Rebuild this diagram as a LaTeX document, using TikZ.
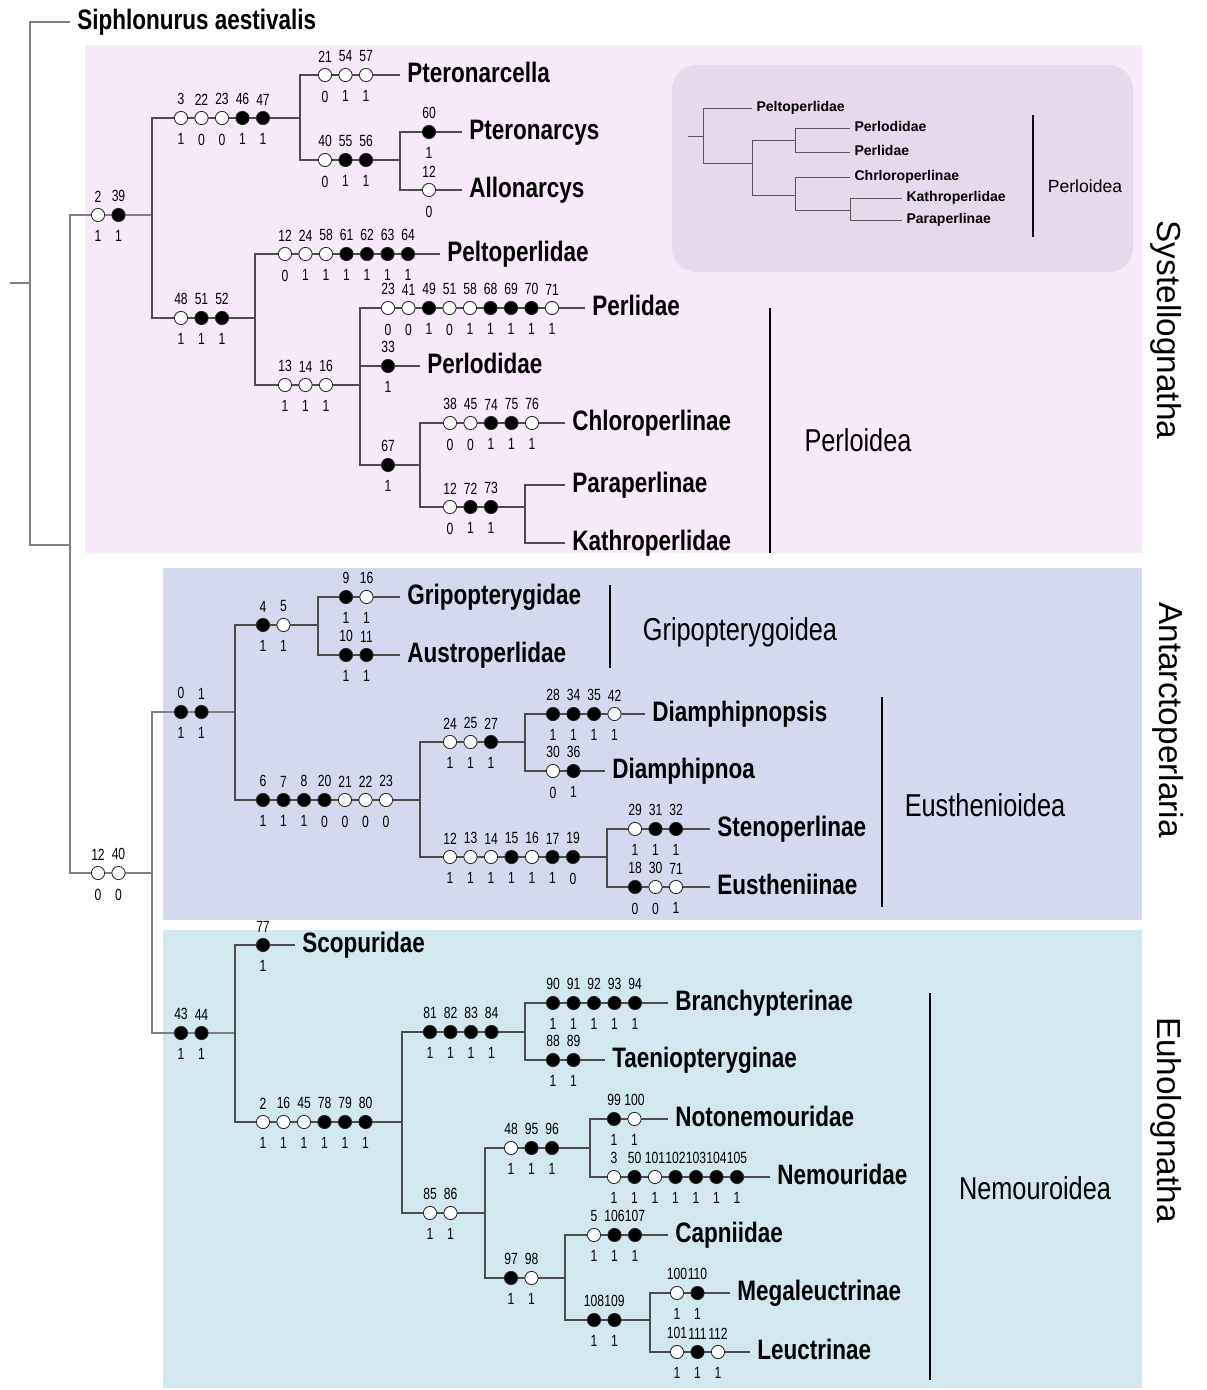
\documentclass[tikz,border=0pt]{standalone}
\usepackage{fontspec}
\setmainfont{Liberation Sans}
\newfontfamily\condfont[FakeStretch=0.8]{Liberation Sans}
\newfontfamily\numfont[FakeStretch=0.75]{Liberation Sans}
\usetikzlibrary{positioning}

\definecolor{systpink}{RGB}{247,234,248}
\definecolor{antblue}{RGB}{212,217,237}
\definecolor{euhteal}{RGB}{210,231,238}
\definecolor{insetlilac}{RGB}{230,217,235}
\colorlet{hp}{white}
\colorlet{ap}{black}

\tikzset{
  branch/.style={draw=black!70, line width=0.9pt},
  rootline/.style={draw=black!50, line width=0.9pt},
  inbranch/.style={draw=black!65, line width=0.7pt},
  groupbar/.style={draw=black, line width=1.3pt},
  charnode/.style={circle, draw=black!85, line width=0.6pt, minimum size=0.33cm, inner sep=0pt},
  num/.style={inner sep=0pt, font=\numfont\fontsize{11.5}{11.5}\selectfont},
  taxon/.style={anchor=west, inner xsep=5pt, inner ysep=0pt, text height=13pt, text depth=3pt,
    font=\condfont\bfseries\fontsize{20}{20}\selectfont},
  grouplabel/.style={inner sep=0pt, font=\condfont\fontsize{22.5}{23}\selectfont},
  sidelabel/.style={inner sep=0pt, rotate=-90, font=\fontsize{23.7}{24}\selectfont},
  intaxon/.style={anchor=west, inner xsep=3pt, inner ysep=0pt, text height=7.5pt, text depth=2pt,
    font=\bfseries\fontsize{10}{10}\selectfont},
}

% a row of character states on a branch: name, x of first circle, y, {fill/char/state,...}
\newcommand\charrow[4]{%
  \foreach \st/\up/\dn [count=\i from 0] in {#4}{%
    \node[charnode, fill=\st] (#1-\i) at ({#2+20.5*\i},#3) {};
    \node[num, above=4pt of #1-\i] (#1-\i-up) {\up};
    \node[num, below=6pt of #1-\i] (#1-\i-dn) {\dn};
  }}

\begin{document}
\begin{tikzpicture}[x=0.025cm, y=-0.025cm]
\useasboundingbox (0,0) rectangle (1206,1390);

% panels
\fill[systpink] (85,45) rectangle (1142,553);
\fill[antblue] (163,568) rectangle (1142,920);
\fill[euhteal] (163,930) rectangle (1142,1388);
\fill[insetlilac, rounded corners=0.6cm] (672,65) rectangle (1133,272);

% root
\coordinate (rootstub) at (10,283);
\coordinate (root) at (30,283);
\coordinate (ingroup) at (70,545);
\coordinate (systell) at (152,215);
\coordinate (nonsys) at (152,873);
\node[taxon] (siphlonurus) at (70,22) {Siphlonurus aestivalis};
\draw[rootline] (rootstub) -- (root);
\draw[rootline] (siphlonurus.west) -| (root);
\draw[rootline] (ingroup) -| (root);
\draw[rootline] (systell) -| (ingroup);
\draw[rootline] (nonsys) -| (ingroup);

% Systellognatha
\coordinate (pteronarcyid) at (300,118);
\coordinate (perlarian) at (255,318);
\coordinate (pteronarcysnode) at (400,160);
\coordinate (perloid) at (360,385);
\coordinate (chloroperlid) at (420,465);
\coordinate (kathronode) at (525,507);
\node[taxon] (pteronarcella) at (400,75) {Pteronarcella};
\node[taxon] (pteronarcys) at (462,132) {Pteronarcys};
\node[taxon] (allonarcys) at (462,190) {Allonarcys};
\node[taxon] (peltoperlidae) at (440,254) {Peltoperlidae};
\node[taxon] (perlidae) at (585,308) {Perlidae};
\node[taxon] (perlodidae) at (420,366) {Perlodidae};
\node[taxon] (chloroperlinae) at (565,423) {Chloroperlinae};
\node[taxon] (paraperlinae) at (565,485) {Paraperlinae};
\node[taxon] (kathroperlidae) at (565,543) {Kathroperlidae};
\draw[branch] (pteronarcyid) -| (systell);
\draw[branch] (perlarian) -| (systell);
\draw[branch] (pteronarcella.west) -| (pteronarcyid);
\draw[branch] (pteronarcysnode) -| (pteronarcyid);
\draw[branch] (pteronarcys.west) -| (pteronarcysnode);
\draw[branch] (allonarcys.west) -| (pteronarcysnode);
\draw[branch] (peltoperlidae.west) -| (perlarian);
\draw[branch] (perloid) -| (perlarian);
\draw[branch] (perlidae.west) -| (perloid);
\draw[branch] (perlodidae.west) -| (perloid);
\draw[branch] (chloroperlid) -| (perloid);
\draw[branch] (chloroperlinae.west) -| (chloroperlid);
\draw[branch] (kathronode) -| (chloroperlid);
\draw[branch] (paraperlinae.west) -| (kathronode);
\draw[branch] (kathroperlidae.west) -| (kathronode);

% Antarctoperlaria
\coordinate (antarcto) at (235,712);
\coordinate (gripo) at (318,625);
\coordinate (eusthen) at (420,800);
\coordinate (diamph) at (525,742);
\coordinate (eusthenid) at (607,857);
\node[taxon] (gripopterygidae) at (400,597) {Gripopterygidae};
\node[taxon] (austroperlidae) at (400,655) {Austroperlidae};
\node[taxon] (diamphipnopsis) at (645,714) {Diamphipnopsis};
\node[taxon] (diamphipnoa) at (605,771) {Diamphipnoa};
\node[taxon] (stenoperlinae) at (710,829) {Stenoperlinae};
\node[taxon] (eustheniinae) at (710,887) {Eustheniinae};
\draw[rootline] (antarcto) -| (nonsys);
\draw[branch] (gripo) -| (antarcto);
\draw[branch] (gripopterygidae.west) -| (gripo);
\draw[branch] (austroperlidae.west) -| (gripo);
\draw[branch] (eusthen) -| (antarcto);
\draw[branch] (diamph) -| (eusthen);
\draw[branch] (diamphipnopsis.west) -| (diamph);
\draw[branch] (diamphipnoa.west) -| (diamph);
\draw[branch] (eusthenid) -| (eusthen);
\draw[branch] (stenoperlinae.west) -| (eusthenid);
\draw[branch] (eustheniinae.west) -| (eusthenid);

% Euholognatha
\coordinate (euholo) at (235,1033);
\coordinate (nemouro) at (402,1122);
\coordinate (taenio) at (525,1032);
\coordinate (capnio) at (485,1213);
\coordinate (nemourid) at (590,1148);
\coordinate (leuctrid) at (565,1278);
\coordinate (leuctrnode) at (650,1320);
\node[taxon] (scopuridae) at (295,945) {Scopuridae};
\node[taxon] (branchypterinae) at (668,1003) {Branchypterinae};
\node[taxon] (taeniopteryginae) at (605,1060) {Taeniopteryginae};
\node[taxon] (notonemouridae) at (668,1119) {Notonemouridae};
\node[taxon] (nemouridae) at (770,1177) {Nemouridae};
\node[taxon] (capniidae) at (668,1235) {Capniidae};
\node[taxon] (megaleuctrinae) at (730,1293) {Megaleuctrinae};
\node[taxon] (leuctrinae) at (750,1352) {Leuctrinae};
\draw[rootline] (euholo) -| (nonsys);
\draw[branch] (scopuridae.west) -| (euholo);
\draw[branch] (nemouro) -| (euholo);
\draw[branch] (taenio) -| (nemouro);
\draw[branch] (branchypterinae.west) -| (taenio);
\draw[branch] (taeniopteryginae.west) -| (taenio);
\draw[branch] (capnio) -| (nemouro);
\draw[branch] (nemourid) -| (capnio);
\draw[branch] (notonemouridae.west) -| (nemourid);
\draw[branch] (nemouridae.west) -| (nemourid);
\draw[branch] (leuctrid) -| (capnio);
\draw[branch] (capniidae.west) -| (leuctrid);
\draw[branch] (leuctrnode) -| (leuctrid);
\draw[branch] (megaleuctrinae.west) -| (leuctrnode);
\draw[branch] (leuctrinae.west) -| (leuctrnode);

% character states
\charrow{sa}{98}{215}{hp/2/1, ap/39/1}
\charrow{sb}{181}{118}{hp/3/1, hp/22/0, hp/23/0, ap/46/1, ap/47/1}
\charrow{sc}{325}{75}{hp/21/0, hp/54/1, hp/57/1}
\charrow{sd}{325}{160}{hp/40/0, ap/55/1, ap/56/1}
\charrow{se}{429}{132}{ap/60/1}
\charrow{sf}{429}{190}{hp/12/0}
\charrow{sg}{181}{318}{hp/48/1, ap/51/1, ap/52/1}
\charrow{sh}{285}{254}{hp/12/0, hp/24/1, hp/58/1, ap/61/1, ap/62/1, ap/63/1, ap/64/1}
\charrow{si}{285}{385}{hp/13/1, hp/14/1, hp/16/1}
\charrow{sj}{388}{308}{hp/23/0, hp/41/0, ap/49/1, hp/51/0, hp/58/1, ap/68/1, ap/69/1, ap/70/1, hp/71/1}
\charrow{sk}{388}{366}{ap/33/1}
\charrow{sl}{388}{465}{ap/67/1}
\charrow{sm}{450}{423}{hp/38/0, hp/45/0, ap/74/1, ap/75/1, hp/76/1}
\charrow{sn}{450}{507}{hp/12/0, ap/72/1, ap/73/1}
\charrow{ra}{98}{873}{hp/12/0, hp/40/0}
\charrow{aa}{181}{712}{ap/0/1, ap/1/1}
\charrow{ab}{263}{625}{ap/4/1, hp/5/1}
\charrow{ac}{346}{597}{ap/9/1, hp/16/1}
\charrow{ad}{346}{655}{ap/10/1, ap/11/1}
\charrow{ae}{263}{800}{ap/6/1, ap/7/1, ap/8/1, ap/20/0, hp/21/0, hp/22/0, hp/23/0}
\charrow{af}{450}{742}{hp/24/1, hp/25/1, ap/27/1}
\charrow{ag}{553}{714}{ap/28/1, ap/34/1, ap/35/1, hp/42/1}
\charrow{ah}{553}{771}{hp/30/0, ap/36/1}
\charrow{ai}{450}{857}{hp/12/1, hp/13/1, hp/14/1, ap/15/1, hp/16/1, ap/17/1, ap/19/0}
\charrow{aj}{635}{829}{hp/29/1, ap/31/1, ap/32/1}
\charrow{ak}{635}{887}{ap/18/0, hp/30/0, hp/71/1}
\charrow{ea}{181}{1033}{ap/43/1, ap/44/1}
\charrow{eb}{263}{945}{ap/77/1}
\charrow{ec}{263}{1122}{hp/2/1, hp/16/1, hp/45/1, ap/78/1, ap/79/1, ap/80/1}
\charrow{ed}{430}{1032}{ap/81/1, ap/82/1, ap/83/1, ap/84/1}
\charrow{ee}{553}{1003}{ap/90/1, ap/91/1, ap/92/1, ap/93/1, ap/94/1}
\charrow{ef}{553}{1060}{ap/88/1, ap/89/1}
\charrow{eg}{430}{1213}{hp/85/1, hp/86/1}
\charrow{eh}{511}{1148}{hp/48/1, ap/95/1, ap/96/1}
\charrow{ei}{614}{1119}{ap/99/1, hp/100/1}
\charrow{ej}{614}{1177}{hp/3/1, ap/50/1, hp/101/1, ap/102/1, ap/103/1, ap/104/1, ap/105/1}
\charrow{ek}{511}{1278}{ap/97/1, hp/98/1}
\charrow{el}{594}{1235}{hp/5/1, ap/106/1, ap/107/1}
\charrow{em}{594}{1320}{ap/108/1, ap/109/1}
\charrow{en}{677}{1293}{hp/100/1, ap/110/1}
\charrow{eo}{677}{1352}{hp/101/1, ap/111/1, hp/112/1}

% superfamilies
\draw[groupbar] (770,308) -- (770,553);
\node[grouplabel] (perloidea) at (858,440) {Perloidea};
\draw[groupbar] (610,585) -- (610,668);
\node[grouplabel] (gripopterygoidea) at (740,632) {Gripopterygoidea};
\draw[groupbar] (882,697) -- (882,907);
\node[grouplabel] (eusthenioidea) at (985,805) {Eusthenioidea};
\draw[groupbar] (930,993) -- (930,1380);
\node[grouplabel] (nemouroidea) at (1035,1188) {Nemouroidea};

% suborders
\node[sidelabel] (systellognatha) at (1166,330) {Systellognatha};
\node[sidelabel] (antarctoperlaria) at (1168,720) {Antarctoperlaria};
\node[sidelabel] (euholognatha) at (1166,1120) {Euholognatha};

% inset: alternative Perloidea topology
\coordinate (instub) at (688,136);
\coordinate (inroot) at (703,136);
\coordinate (ina) at (752,163);
\coordinate (inb) at (795,140);
\coordinate (inc) at (795,195);
\coordinate (ind) at (850,210);
\node[intaxon] (inpelto) at (752,108) {Peltoperlidae};
\node[intaxon] (inperlod) at (850,128) {Perlodidae};
\node[intaxon] (inperlid) at (850,152) {Perlidae};
\node[intaxon] (inchloro) at (850,177) {Chrloroperlinae};
\node[intaxon] (inkathro) at (902,198) {Kathroperlidae};
\node[intaxon] (inpara) at (902,220) {Paraperlinae};
\draw[inbranch] (instub) -- (inroot);
\draw[inbranch] (inpelto.west) -| (inroot);
\draw[inbranch] (ina) -| (inroot);
\draw[inbranch] (inb) -| (ina);
\draw[inbranch] (inc) -| (ina);
\draw[inbranch] (inperlod.west) -| (inb);
\draw[inbranch] (inperlid.west) -| (inb);
\draw[inbranch] (inchloro.west) -| (inc);
\draw[inbranch] (ind) -| (inc);
\draw[inbranch] (inkathro.west) -| (ind);
\draw[inbranch] (inpara.west) -| (ind);
\draw[groupbar, line width=1.1pt] (1033,115) -- (1033,237);
\node[inner sep=0pt, font=\fontsize{12.5}{13}\selectfont] (inperloidea) at (1085,186) {Perloidea};
\end{tikzpicture}
\end{document}
